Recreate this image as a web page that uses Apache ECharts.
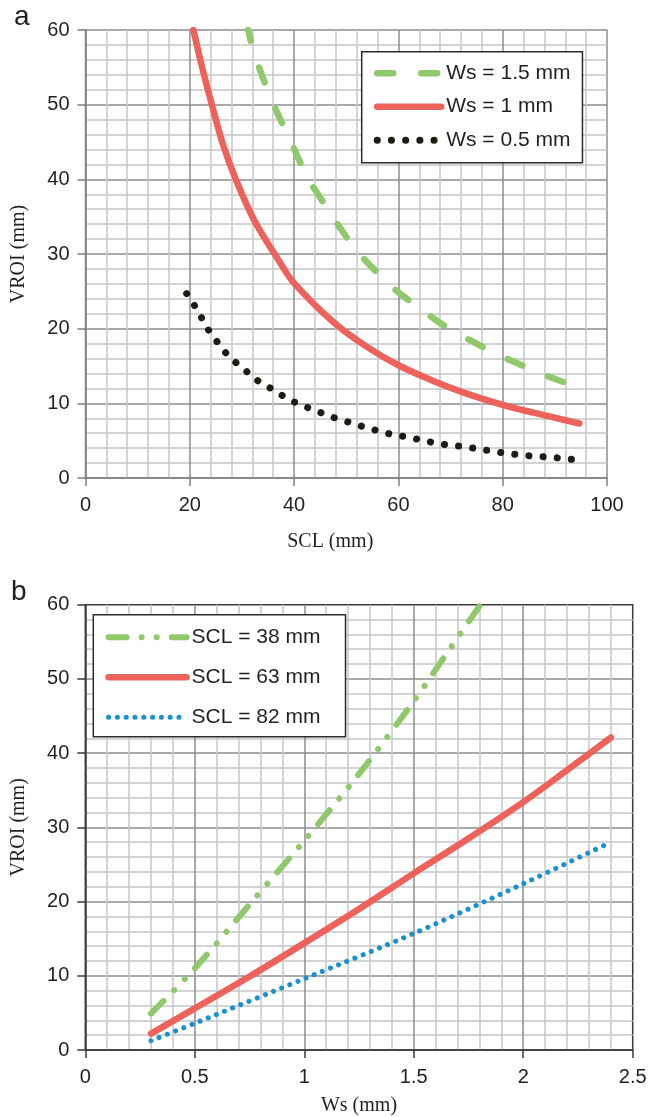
<!DOCTYPE html>
<html>
<head>
<meta charset="utf-8">
<script src="https://cdn.jsdelivr.net/npm/echarts@6/dist/echarts.min.js"></script>
<style>
  html, body { margin: 0; padding: 0; background: #fff; }
  #chart { width: 651px; height: 1117px; }
</style>
</head>
<body>
<div id="chart"></div>
<script>
// ---- Panel a: VROI against SCL for three Ws values ----
const ticksA_x = [0, 20, 40, 60, 80, 100];
const ticksA_y = [0, 10, 20, 30, 40, 50, 60];
const namesA = ['Ws = 1.5 mm', 'Ws = 1 mm', 'Ws = 0.5 mm'];

const sclWs15 = [31.2, 32.5, 36.1, 39.8, 42.7, 44.0, 51.4, 57.1, 60.3, 63.8, 67.7, 71.2, 75.0, 78.5, 82.7, 86.5, 90.7, 94.8];
const vroiWs15 = [60, 56.5, 50, 44.4, 40, 38.6, 31.0, 26.7, 24.7, 22.9, 20.9, 19.4, 18.0, 16.7, 15.4, 14.2, 13.1, 12.1];

const sclWs10 = [20.7, 22.5, 24.5, 26.4, 28.7, 32.3, 37.0, 40.0, 47.5, 53.9, 60.0, 66.7, 73.1, 80.0, 85.9, 94.7];
const vroiWs10 = [60, 54.6, 49.3, 44.6, 40.2, 34.6, 29.2, 26.1, 20.9, 17.6, 15.1, 13.0, 11.3, 9.8, 8.75, 7.3];

const sclWs05 = [19.4, 20.9, 22.3, 23.7, 25.3, 27.1, 29.1, 31.2, 33.3, 35.8, 38.1, 40.6, 43.1, 45.7, 48.4, 50.9, 53.6, 56.2, 59.0, 61.6, 64.3, 67.0, 69.8, 72.5, 75.2, 78.0, 80.8, 83.5, 86.2, 88.9, 91.8, 94.5];
const vroiWs05 = [24.7, 23.1, 21.4, 19.7, 18.2, 16.6, 15.3, 14.1, 12.9, 11.9, 10.9, 10.0, 9.3, 8.6, 7.9, 7.4, 6.8, 6.3, 5.8, 5.5, 5.1, 4.7, 4.4, 4.2, 3.9, 3.6, 3.3, 3.1, 2.9, 2.8, 2.6, 2.4];

// ---- Panel b: VROI against Ws for three SCL values ----
const ticksB_x = [0, 0.5, 1, 1.5, 2, 2.5];
const ticksB_y = [0, 10, 20, 30, 40, 50, 60];
const namesB = ['SCL = 38 mm', 'SCL = 63 mm', 'SCL = 82 mm'];

const wsScl38 = [0.3, 0.5, 0.75, 1.0, 1.25, 1.5, 1.65, 1.805];
const vroiScl38 = [4.9, 11.0, 19.6, 28.2, 37.2, 47.0, 53.4, 60];

const wsScl63 = [0.3, 0.5, 0.75, 1.0, 1.25, 1.5, 1.75, 2.0, 2.2, 2.4];
const vroiScl63 = [2.2, 5.6, 9.9, 14.4, 19.0, 23.8, 28.5, 33.4, 37.7, 42.1];

const wsScl82 = [0.3, 0.5, 1.0, 1.5, 2.0, 2.4];
const vroiScl82 = [1.25, 3.6, 9.6, 15.7, 22.4, 28.0];

const zip = (xs, ys) => xs.map((x, i) => [x, ys[i]]);

const SANS = '"Liberation Sans", Arial, Helvetica, sans-serif';
const SERIF = '"Liberation Serif", "Times New Roman", serif';
const INK = '#231f20';
const GREEN = '#8fc96c';
const RED = '#ee625c';
const BLUE = '#1b90cf';
const BLACK = '#1f1c14';

function axisDef(ticks, gridIndex, opts) {
  return Object.assign({
    type: 'value',
    gridIndex: gridIndex,
    min: ticks[0],
    max: ticks[ticks.length - 1],
    interval: ticks[1] - ticks[0],
    axisLine: { show: true, onZero: false, lineStyle: { color: opts.axisColor, width: 1.5 } },
    axisTick: { show: true, inside: false, length: 8, lineStyle: { color: opts.axisColor, width: 1.5 } },
    axisLabel: { color: INK, fontSize: 20, fontFamily: SANS, margin: opts.labelMargin,
      formatter: v => String(v) },
    splitLine: { show: true, showMinLine: false, showMaxLine: false,
      lineStyle: { color: '#8d8d8d', width: 1.5 } },
    minorTick: { show: false, splitNumber: 5 },
    minorSplitLine: { show: true, lineStyle: { color: '#c5c7c7', width: 1.5 } },
    nameLocation: 'middle',
    nameTextStyle: { fontFamily: SERIF, fontSize: 20, color: INK }
  }, opts.extra || {});
}

function legendDef(names, box) {
  return {
    data: names,
    orient: 'vertical',
    left: box.left,
    top: box.top,
    padding: box.padding,
    itemGap: box.itemGap,
    itemWidth: box.itemWidth,
    itemHeight: 20,
    backgroundColor: '#fff',
    borderColor: '#2b2b2b',
    borderWidth: 1.5,
    borderRadius: 0,
    selectedMode: false,
    // line-only keys: hide the marker, keep each series' own stroke
    itemStyle: { color: 'rgba(0,0,0,0)', borderWidth: 0, opacity: 0 },
    lineStyle: { width: 'inherit', type: 'inherit', cap: 'inherit', dashOffset: 0 },
    textStyle: { fontFamily: SANS, fontSize: 21, color: INK, lineHeight: 20 }
  };
}

const option = {
  animation: false,
  backgroundColor: '#fff',
  title: [
    { text: 'a', left: 9, top: -2, textStyle: { fontFamily: SANS, fontSize: 28, fontWeight: 'normal', color: INK } },
    { text: 'b', left: 6, top: 573, textStyle: { fontFamily: SANS, fontSize: 28, fontWeight: 'normal', color: INK } }
  ],
  grid: [
    { left: 85.5, top: 30, width: 521.5, height: 448, show: true, borderColor: '#8d8d8d', borderWidth: 1.5, backgroundColor: 'transparent' },
    { left: 85.3, top: 604.7, width: 547.4, height: 445.3, show: true, borderColor: '#3a3a3a', borderWidth: 1.5, backgroundColor: 'transparent' }
  ],
  xAxis: [
    axisDef(ticksA_x, 0, { axisColor: '#7d7d7d', labelMargin: 17,
      extra: { name: 'SCL (mm)', nameGap: 54, nameTextStyle: { fontFamily: SERIF, fontSize: 20, color: INK, padding: [0, 32, 0, 0] } } }),
    axisDef(ticksB_x, 1, { axisColor: '#3a3a3a', labelMargin: 17,
      extra: { name: 'Ws (mm)', nameGap: 46 } })
  ],
  yAxis: [
    axisDef(ticksA_y, 0, { axisColor: '#7d7d7d', labelMargin: 16,
      extra: { name: 'VROI (mm)', nameGap: 57 } }),
    axisDef(ticksB_y, 1, { axisColor: '#3a3a3a', labelMargin: 16,
      extra: { name: 'VROI (mm)', nameGap: 57 } })
  ],
  legend: [
    legendDef(namesA, { left: 361.7, top: 51.7, padding: [11, 12, 12, 12], itemGap: 12.5, itemWidth: 64 }),
    legendDef(namesB, { left: 93.3, top: 614.7, padding: [12, 25, 9, 12], itemGap: 19, itemWidth: 78 })
  ],
  series: [
    { name: namesA[0], type: 'line', xAxisIndex: 0, yAxisIndex: 0, data: zip(sclWs15, vroiWs15),
      smooth: 0.35, showSymbol: false, symbol: 'none', color: GREEN,
      lineStyle: { color: GREEN, width: 6.5, type: [16, 28], dashOffset: 5, cap: 'round' } },
    { name: namesA[1], type: 'line', xAxisIndex: 0, yAxisIndex: 0, data: zip(sclWs10, vroiWs10),
      smooth: 0.35, showSymbol: false, symbol: 'none', color: RED,
      lineStyle: { color: RED, width: 6.5, type: 'solid', cap: 'round' } },
    { name: namesA[2], type: 'line', xAxisIndex: 0, yAxisIndex: 0, data: zip(sclWs05, vroiWs05),
      smooth: 0.35, showSymbol: false, symbol: 'none', color: BLACK,
      lineStyle: { color: BLACK, width: 7, type: [0.1, 14.1], cap: 'round' } },

    { name: namesB[0], type: 'line', xAxisIndex: 1, yAxisIndex: 1, data: zip(wsScl38, vroiScl38),
      smooth: 0.3, showSymbol: false, symbol: 'none', color: GREEN,
      lineStyle: { color: GREEN, width: 6, type: [18, 15, 0.1, 15, 0.1, 15], cap: 'round' } },
    { name: namesB[1], type: 'line', xAxisIndex: 1, yAxisIndex: 1, data: zip(wsScl63, vroiScl63),
      smooth: 0.3, showSymbol: false, symbol: 'none', color: RED,
      lineStyle: { color: RED, width: 6.5, type: 'solid', cap: 'round' } },
    { name: namesB[2], type: 'line', xAxisIndex: 1, yAxisIndex: 1, data: zip(wsScl82, vroiScl82),
      smooth: 0.3, showSymbol: false, symbol: 'none', color: BLUE,
      lineStyle: { color: BLUE, width: 5, type: [0.1, 8.7], cap: 'round' } }
  ]
};

const chart = echarts.init(document.getElementById('chart'), null, { renderer: 'canvas' });
chart.setOption(option);
</script>
</body>
</html>
